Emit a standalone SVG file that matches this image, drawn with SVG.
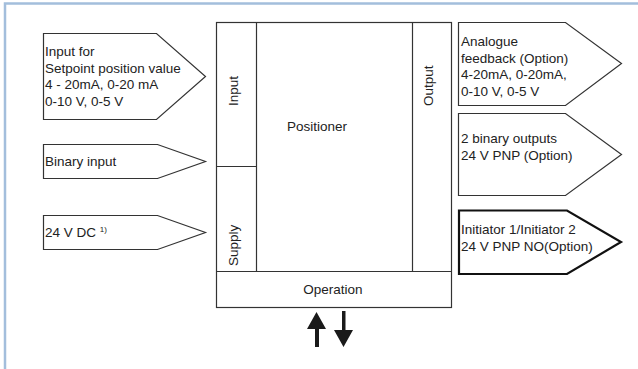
<svg xmlns="http://www.w3.org/2000/svg" width="638" height="369" viewBox="0 0 638 369">
<style>
text{font-family:"Liberation Sans",Arial,sans-serif;font-size:13.5px;fill:#222}
.box{fill:#fff;stroke:#333;stroke-width:1.2}
.thick{fill:#fff;stroke:#111;stroke-width:2.2}
.ln{stroke:#333;stroke-width:1.2;fill:none}
.arr{fill:#1a1a1a}
</style>
<rect width="638" height="369" fill="#fff"/>
<g id="frame">
<path d="M5 369 V3.5 H638" fill="none" stroke="#a3bedc" stroke-width="2.5"/>
</g>
<g id="main">
<rect class="box" x="216.5" y="22.5" width="235" height="285"/>
<line class="ln" x1="256.5" y1="22.5" x2="256.5" y2="271.5"/>
<line class="ln" x1="412.5" y1="22.5" x2="412.5" y2="271.5"/>
<line class="ln" x1="216.5" y1="166.5" x2="256.5" y2="166.5"/>
<line class="ln" x1="216.5" y1="271.5" x2="451.5" y2="271.5"/>
<text x="317" y="131" text-anchor="middle">Positioner</text>
<text transform="translate(238,106) rotate(-90)">Input</text>
<text transform="translate(433,106) rotate(-90)">Output</text>
<text transform="translate(238,266) rotate(-90)">Supply</text>
<text x="333" y="294" text-anchor="middle">Operation</text>
</g>
<g id="in-setpoint">
<path class="box" d="M43.5 33.5 H156.5 L205.5 76.5 L156.5 119.5 H43.5 Z"/>
<text x="45" y="56">Input for</text>
<text x="45" y="72.5">Setpoint position value</text>
<text x="45" y="89">4 - 20mA, 0-20 mA</text>
<text x="45" y="105.5">0-10 V, 0-5 V</text>
</g>
<g id="in-binary">
<path class="box" d="M43.5 144.5 H157.5 L205.5 161.5 L157.5 178.5 H43.5 Z"/>
<text x="45" y="166">Binary input</text>
</g>
<g id="in-supply">
<path class="box" d="M43.5 215.5 H157.5 L205.5 232.5 L157.5 249.5 H43.5 Z"/>
<text x="45" y="237">24 V DC <tspan font-size="8" dy="-5">1)</tspan></text>
</g>
<g id="out-analogue">
<path class="box" d="M458.5 22.5 H565.5 L621.5 63.5 L565.5 105.5 H458.5 Z"/>
<text x="461" y="46">Analogue</text>
<text x="461" y="62.5">feedback (Option)</text>
<text x="461" y="79">4-20mA, 0-20mA,</text>
<text x="461" y="95.5">0-10 V, 0-5 V</text>
</g>
<g id="out-binary">
<path class="box" d="M458.5 113.5 H565.5 L621.5 154.5 L565.5 195.5 H458.5 Z"/>
<text x="461" y="143">2 binary outputs</text>
<text x="461" y="160">24 V PNP (Option)</text>
</g>
<g id="out-initiator">
<path class="thick" d="M459 210.5 H567 L621 242 L567 274 H459 Z"/>
<text x="461" y="234">Initiator 1/Initiator 2</text>
<text x="461" y="251">24 V PNP NO(Option)</text>
</g>
<g id="connectors">
<polygon class="arr" points="315,347 319,347 319,329 326,329 316.5,312 307,329 315,329"/>
<polygon class="arr" points="342,311 345.5,311 345.5,330 353,330 343.5,347 334,330 342,330"/>
</g>
</svg>
